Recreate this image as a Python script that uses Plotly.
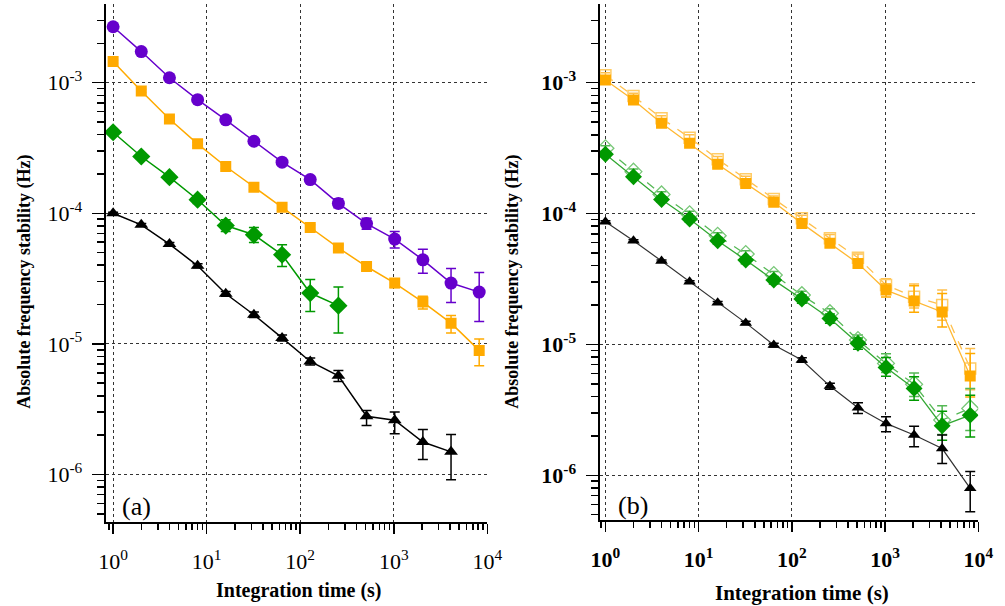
import plotly.graph_objects as go

# ---------------- data ----------------
tau = [1, 2, 4, 8, 16, 32, 64, 128, 256, 512, 1024, 2048, 4096, 8192]

# panel (a)
a_purple = [2.68e-3, 1.73e-3, 1.09e-3, 7.41e-4, 5.19e-4, 3.56e-4, 2.46e-4, 1.81e-4, 1.19e-4, 8.34e-5, 6.34e-5, 4.40e-5, 2.92e-5, 2.49e-5]
a_purple_hi = [2.75e-3, 1.78e-3, 1.12e-3, 7.62e-4, 5.35e-4, 3.68e-4, 2.56e-4, 1.91e-4, 1.29e-4, 9.17e-5, 7.24e-5, 5.31e-5, 3.78e-5, 3.52e-5]
a_purple_lo = [2.61e-3, 1.68e-3, 1.06e-3, 7.20e-4, 5.03e-4, 3.44e-4, 2.36e-4, 1.71e-4, 1.10e-4, 7.55e-5, 5.41e-5, 3.48e-5, 2.07e-5, 1.48e-5]

a_orange = [1.45e-3, 8.64e-4, 5.27e-4, 3.40e-4, 2.28e-4, 1.58e-4, 1.11e-4, 7.78e-5, 5.43e-5, 3.91e-5, 2.92e-5, 2.09e-5, 1.44e-5, 8.91e-6]
a_orange_hi = [1.49e-3, 8.90e-4, 5.43e-4, 3.50e-4, 2.36e-4, 1.64e-4, 1.16e-4, 8.15e-5, 5.72e-5, 4.15e-5, 3.15e-5, 2.31e-5, 1.65e-5, 1.09e-5]
a_orange_lo = [1.41e-3, 8.40e-4, 5.12e-4, 3.30e-4, 2.20e-4, 1.52e-4, 1.06e-4, 7.42e-5, 5.15e-5, 3.68e-5, 2.70e-5, 1.85e-5, 1.21e-5, 6.80e-6]

a_green = [4.17e-4, 2.72e-4, 1.89e-4, 1.27e-4, 8.05e-5, 6.84e-5, 4.81e-5, 2.45e-5, 1.96e-5]
a_green_hi = [4.30e-4, 2.82e-4, 1.97e-4, 1.36e-4, 8.91e-5, 7.78e-5, 5.73e-5, 3.11e-5, 2.72e-5]
a_green_lo = [4.05e-4, 2.62e-4, 1.81e-4, 1.19e-4, 7.24e-5, 5.97e-5, 3.91e-5, 1.77e-5, 1.21e-5]

a_black = [1.00e-4, 8.15e-5, 5.81e-5, 3.96e-5, 2.42e-5, 1.67e-5, 1.11e-5, 7.33e-6, 5.70e-6, 2.79e-6, 2.60e-6, 1.77e-6, 1.49e-6]
a_black_hi = [1.02e-4, 8.35e-5, 5.98e-5, 4.10e-5, 2.52e-5, 1.75e-5, 1.17e-5, 7.80e-6, 6.25e-6, 3.09e-6, 3.01e-6, 2.21e-6, 2.02e-6]
a_black_lo = [0.98e-4, 7.95e-5, 5.64e-5, 3.82e-5, 2.32e-5, 1.59e-5, 1.05e-5, 6.90e-6, 5.15e-6, 2.37e-6, 2.05e-6, 1.30e-6, 9.12e-7]

# panel (b)
b_orange = [1.05e-3, 7.38e-4, 4.90e-4, 3.44e-4, 2.38e-4, 1.70e-4, 1.22e-4, 8.41e-5, 5.92e-5, 4.16e-5, 2.60e-5, 2.15e-5, 1.77e-5, 5.73e-6]
b_orange_hi = [1.10e-3, 7.75e-4, 5.15e-4, 3.62e-4, 2.50e-4, 1.79e-4, 1.29e-4, 8.90e-5, 6.30e-5, 4.45e-5, 2.90e-5, 2.81e-5, 2.45e-5, 8.53e-6]
b_orange_lo = [1.00e-3, 7.00e-4, 4.65e-4, 3.26e-4, 2.26e-4, 1.61e-4, 1.15e-4, 7.90e-5, 5.55e-5, 3.87e-5, 2.30e-5, 1.76e-5, 1.36e-5, 3.97e-6]
b_orange_dash = [1.14e-3, 7.90e-4, 5.34e-4, 3.80e-4, 2.60e-4, 1.83e-4, 1.29e-4, 9.20e-5, 6.46e-5, 4.59e-5, 2.84e-5, 2.31e-5, 2.00e-5, 6.55e-6]
b_orange_dash_hi = [1.19e-3, 8.30e-4, 5.60e-4, 4.00e-4, 2.73e-4, 1.93e-4, 1.36e-4, 9.70e-5, 6.90e-5, 4.90e-5, 3.17e-5, 2.89e-5, 2.60e-5, 9.30e-6]
b_orange_dash_lo = [1.09e-3, 7.50e-4, 5.08e-4, 3.60e-4, 2.47e-4, 1.73e-4, 1.22e-4, 8.70e-5, 6.05e-5, 4.28e-5, 2.51e-5, 1.90e-5, 1.53e-5, 4.50e-6]

b_green = [2.84e-4, 1.91e-4, 1.28e-4, 9.08e-5, 6.20e-5, 4.41e-5, 3.10e-5, 2.22e-5, 1.58e-5, 1.02e-5, 6.67e-6, 4.61e-6, 2.39e-6, 2.88e-6]
b_green_hi = [2.97e-4, 2.00e-4, 1.34e-4, 9.55e-5, 6.55e-5, 4.68e-5, 3.30e-5, 2.38e-5, 1.71e-5, 1.12e-5, 7.94e-6, 5.65e-6, 3.09e-6, 4.09e-6]
b_green_lo = [2.71e-4, 1.82e-4, 1.22e-4, 8.60e-5, 5.85e-5, 4.14e-5, 2.90e-5, 2.06e-5, 1.45e-5, 9.20e-6, 5.71e-6, 3.75e-6, 1.85e-6, 1.96e-6]
b_green_dash = [3.15e-4, 2.09e-4, 1.40e-4, 9.86e-5, 6.76e-5, 4.90e-5, 3.39e-5, 2.38e-5, 1.73e-5, 1.08e-5, 7.16e-6, 4.95e-6, 2.64e-6, 3.24e-6]
b_green_dash_hi = [3.29e-4, 2.19e-4, 1.47e-4, 1.04e-4, 7.14e-5, 5.20e-5, 3.60e-5, 2.55e-5, 1.87e-5, 1.18e-5, 8.50e-6, 6.05e-6, 3.40e-6, 4.60e-6]
b_green_dash_lo = [3.01e-4, 1.99e-4, 1.33e-4, 9.30e-5, 6.38e-5, 4.60e-5, 3.17e-5, 2.20e-5, 1.59e-5, 9.80e-6, 6.10e-6, 4.00e-6, 2.05e-6, 2.20e-6]

b_black = [8.65e-5, 6.19e-5, 4.34e-5, 3.01e-5, 2.08e-5, 1.46e-5, 9.88e-6, 7.59e-6, 4.80e-6, 3.28e-6, 2.49e-6, 2.03e-6, 1.60e-6, 7.94e-7]
b_black_hi = [8.80e-5, 6.30e-5, 4.42e-5, 3.07e-5, 2.13e-5, 1.50e-5, 1.02e-5, 7.90e-6, 5.05e-6, 3.58e-6, 2.80e-6, 2.37e-6, 2.03e-6, 1.07e-6]
b_black_lo = [8.50e-5, 6.08e-5, 4.26e-5, 2.95e-5, 2.03e-5, 1.42e-5, 9.55e-6, 7.30e-6, 4.55e-6, 2.97e-6, 2.15e-6, 1.65e-6, 1.23e-6, 5.27e-7]

x_tickvals = [1, 10, 100, 1000, 10000]
x_ticktext = ["10<sup>0</sup>", "10<sup>1</sup>", "10<sup>2</sup>", "10<sup>3</sup>", "10<sup>4</sup>"]
y_tickvals = [1e-6, 1e-5, 1e-4, 1e-3]
y_ticktext = ["10<sup>-6</sup>", "10<sup>-5</sup>", "10<sup>-4</sup>", "10<sup>-3</sup>"]

PURPLE = "#6600CC"
ORANGE = "#FFAA00"
GREEN = "#009900"
BLACK = "#000000"

SERIF = "Liberation Serif, Times New Roman, Times, DejaVu Serif, serif"


def series(y, hi, lo, color, symbol, size, xa, ya, lw=1.5, dash="solid",
           mcolor=None, lcolor=None, ecolor=None, mline=None):
    x = tau[:len(y)]
    return go.Scatter(
        x=x, y=y, mode="lines+markers", xaxis=xa, yaxis=ya, showlegend=False,
        hoverinfo="skip",
        line=dict(color=lcolor or color, width=lw, dash=dash),
        marker=dict(symbol=symbol, size=size, color=mcolor or color,
                    line=mline or dict(width=0)),
        error_y=dict(type="data", symmetric=False,
                     array=[h - v for h, v in zip(hi, y)],
                     arrayminus=[v - l for v, l in zip(y, lo)],
                     color=ecolor or color, thickness=1.5, width=5),
    )


fig = go.Figure()

# panel (a)
fig.add_trace(series(a_purple, a_purple_hi, a_purple_lo, PURPLE, "circle", 13, "x", "y"))
fig.add_trace(series(a_orange, a_orange_hi, a_orange_lo, ORANGE, "square", 11, "x", "y"))
fig.add_trace(series(a_green, a_green_hi, a_green_lo, GREEN, "diamond", 14, "x", "y"))
fig.add_trace(series(a_black, a_black_hi, a_black_lo, BLACK, "triangle-up", 12, "x", "y"))

# panel (b)
fig.add_trace(series(b_orange_dash, b_orange_dash_hi, b_orange_dash_lo, ORANGE, "square-open", 11,
                     "x2", "y2", lw=1.3, dash="dash", lcolor="#FFC04D", ecolor="#FFC04D",
                     mcolor="#FFCC66", mline=dict(width=1.5, color="#FFCC66")))
fig.add_trace(series(b_orange, b_orange_hi, b_orange_lo, ORANGE, "square", 11, "x2", "y2",
                     lw=1.3, lcolor="#FFB833"))
fig.add_trace(series(b_green_dash, b_green_dash_hi, b_green_dash_lo, GREEN, "diamond-open", 13,
                     "x2", "y2", lw=1.3, dash="dash", lcolor="#55B855", ecolor="#55B855",
                     mcolor="#77C777", mline=dict(width=1.3, color="#77C777")))
fig.add_trace(series(b_green, b_green_hi, b_green_lo, GREEN, "diamond", 13, "x2", "y2",
                     lw=1.3, lcolor="#33A833"))
fig.add_trace(series(b_black, b_black_hi, b_black_lo, BLACK, "triangle-up", 11, "x2", "y2",
                     lw=1.2, lcolor="#333333"))

W, H = 1005, 606
tickfont = dict(family=SERIF, size=22, color="black")


def xaxis(domain, rng, anchor, bold=False):
    return dict(type="log", domain=domain, range=rng, anchor=anchor,
                tickvals=x_tickvals, ticktext=[f"<b>{t}</b>" if bold else t for t in x_ticktext],
                tickfont=tickfont, ticks="outside", ticklen=10, tickwidth=1.5, tickcolor="black",
                ticklabelstandoff=9,
                showline=True, linecolor="black", linewidth=2,
                showgrid=True, gridcolor="#333333", griddash="dot", gridwidth=1,
                minor=dict(ticks="outside", ticklen=6, tickwidth=1.5, tickcolor="black",
                           dtick="D1", showgrid=False),
                zeroline=False, mirror=False, fixedrange=True)


def yaxis(domain, rng, anchor, bold=False):
    return dict(type="log", domain=domain, range=rng, anchor=anchor,
                tickvals=y_tickvals, ticktext=[f"<b>{t}</b>" if bold else t for t in y_ticktext],
                tickfont=tickfont, ticks="outside", ticklen=12, tickwidth=1.5, tickcolor="black",
                ticklabelstandoff=5,
                showline=True, linecolor="black", linewidth=2,
                showgrid=True, gridcolor="#333333", griddash="dot", gridwidth=1,
                minor=dict(ticks="outside", ticklen=7, tickwidth=1.5, tickcolor="black",
                           dtick="D1", showgrid=False),
                zeroline=False, mirror=False, fixedrange=True)


fig.update_layout(
    width=W, height=H,
    margin=dict(l=0, r=0, t=0, b=0),
    paper_bgcolor="white", plot_bgcolor="white",
    font=dict(family=SERIF, color="black"),
    xaxis=xaxis([99 / W, 490 / W], [-0.08, 4.0], "y"),
    yaxis=yaxis([1 - 522 / H, 1 - 4.3 / H], [-6.364, -2.40], "x"),
    xaxis2=xaxis([605 / W, 993 / W], [-0.063, 4.0], "y2", bold=True),
    yaxis2=yaxis([1 - 520 / H, 1 - 4.3 / H], [-6.342, -2.401], "x2", bold=True),
)

annots = [
    dict(text="<b>Absolute frequency stability (Hz)</b>", x=15 / W, y=1 - 282 / H, textangle=-90,
         font=dict(family=SERIF, size=18)),
    dict(text="<b>Absolute frequency stability (Hz)</b>", x=515 / W, y=1 - 282 / H, textangle=-90,
         font=dict(family=SERIF, size=18)),
    dict(text="<b>Integration time (s)</b>", x=297 / W, y=1 - 590 / H,
         font=dict(family=SERIF, size=20)),
    dict(text="<b>Integration time (s)</b>", x=812 / W, y=1 - 593 / H,
         font=dict(family=SERIF, size=21)),
    dict(text="(a)", x=131 / W, y=1 - 506 / H, font=dict(family=SERIF, size=26)),
    dict(text="(b)", x=639 / W, y=1 - 505 / H, font=dict(family=SERIF, size=26)),
]
for a in annots:
    fig.add_annotation(xref="paper", yref="paper", showarrow=False,
                       xanchor="center", yanchor="middle", **a)

fig.write_html("out.html", config={"displayModeBar": False, "staticPlot": True},
               post_script="document.body.style.margin='0px';document.body.style.padding='0px';")
